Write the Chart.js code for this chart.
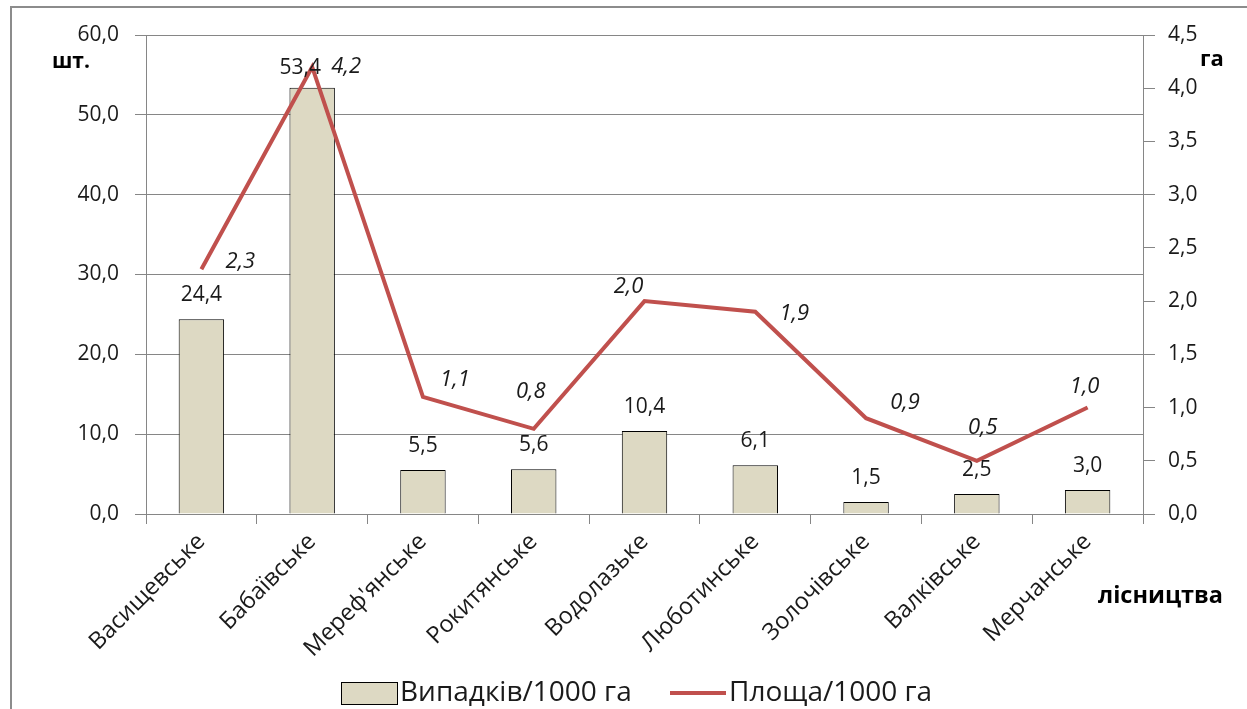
<!DOCTYPE html>
<html>
<head>
<meta charset="utf-8">
<script src="https://cdn.jsdelivr.net/npm/chart.js@4.4.0/dist/chart.umd.min.js"></script>
<style>
  html, body { margin: 0; padding: 0; background: #fff; }
</style>
</head>
<body>
<canvas id="chart" width="1247" height="709"></canvas>
<script>
// forestries and their values
const forestries = ['Васищевське', 'Бабаївське', "Мереф'янське", 'Рокитянське', 'Водолазьке', 'Люботинське', 'Золочівське', 'Валківське', 'Мерчанське'];
const casesPer1000 = [24.4, 53.4, 5.5, 5.6, 10.4, 6.1, 1.5, 2.5, 3.0];
const areaPer1000 = [2.3, 4.2, 1.1, 0.8, 2.0, 1.9, 0.9, 0.5, 1.0];
const seriesNames = ['Випадків/1000 га', 'Площа/1000 га'];
const leftTicks = [0, 10, 20, 30, 40, 50, 60];
const rightTicks = [0, 0.5, 1, 1.5, 2, 2.5, 3, 3.5, 4, 4.5];

// where the italic line labels sit relative to their points
const lineLabelShift = [[39, -7], [34, 0], [32, -17], [-3, -37], [-16, -14], [39, 2], [39, -15], [6, -33], [-3, -21]];
// the tall bar's label is nudged left/down to clear the line label
const barLabelShift = [[0, -24], [-12, -20], [0, -24], [0, -24], [0, -24], [0, -24], [0, -24], [0, -24], [0, -24]];

const FONT = "'Open Sans', 'Noto Sans', sans-serif";
const GRID = '#868686';
const TEXT = '#1a1a1a';
const BAR_FILL = '#DDD9C3';
const LINE_RED = '#C0504D';

const fmt = v => Number(v).toFixed(1).replace('.', ',');

// white background + frame lines around the chart
const framePlugin = {
  id: 'frame',
  beforeDraw(chart) {
    const ctx = chart.ctx;
    ctx.save();
    ctx.fillStyle = '#fff';
    ctx.fillRect(0, 0, chart.width, chart.height);
    ctx.strokeStyle = '#8c8c8c';
    ctx.lineWidth = 2;
    ctx.beginPath();
    ctx.moveTo(chart.width, 7);
    ctx.lineTo(11, 7);
    ctx.lineTo(11, chart.height);
    ctx.stroke();
    ctx.restore();
  }
};

// value labels above bars and beside the line points
const valueLabels = {
  id: 'valueLabels',
  afterDatasetsDraw(chart) {
    const ctx = chart.ctx;
    ctx.save();
    ctx.fillStyle = TEXT;
    ctx.textAlign = 'center';
    ctx.textBaseline = 'middle';

    ctx.font = `21px ${FONT}`;
    chart.getDatasetMeta(0).data.forEach((bar, i) => {
      const [dx, dy] = barLabelShift[i];
      ctx.fillText(fmt(casesPer1000[i]), bar.x + dx, bar.y + dy);
    });

    ctx.font = `italic 22px ${FONT}`;
    chart.getDatasetMeta(1).data.forEach((pt, i) => {
      const [dx, dy] = lineLabelShift[i];
      ctx.fillText(fmt(areaPer1000[i]), pt.x + dx, pt.y + dy);
    });
    ctx.restore();
  }
};

// axis captions and the legend row at the bottom
const captions = {
  id: 'captions',
  afterDraw(chart) {
    const ctx = chart.ctx;
    ctx.save();
    ctx.fillStyle = '#000';
    ctx.textBaseline = 'middle';
    ctx.textAlign = 'left';
    ctx.font = `bold 21px ${FONT}`;
    ctx.fillText('шт.', 52, 62);
    ctx.font = `bold 22px ${FONT}`;
    ctx.fillText('га', 1200, 60);
    ctx.font = `bold 23.5px ${FONT}`;
    ctx.fillText('лісництва', 1098, 596);

    // legend
    ctx.font = `28px ${FONT}`;
    ctx.fillStyle = BAR_FILL;
    ctx.fillRect(341, 682, 56, 22);
    ctx.strokeStyle = '#000';
    ctx.lineWidth = 1;
    ctx.strokeRect(341.5, 682.5, 56, 22);
    ctx.fillStyle = TEXT;
    ctx.fillText(seriesNames[0], 400, 693);

    ctx.strokeStyle = LINE_RED;
    ctx.lineWidth = 4;
    ctx.beginPath();
    ctx.moveTo(670, 693);
    ctx.lineTo(726, 693);
    ctx.stroke();
    ctx.fillText(seriesNames[1], 729, 693);
    ctx.restore();
  }
};

const tickFont = { family: FONT, size: 21 };

new Chart(document.getElementById('chart'), {
  type: 'bar',
  data: {
    labels: forestries,
    datasets: [
      {
        label: seriesNames[0],
        data: casesPer1000,
        backgroundColor: BAR_FILL,
        borderColor: '#000',
        borderWidth: 1,
        barPercentage: 0.41,
        categoryPercentage: 1,
        yAxisID: 'y',
        order: 2,
      },
      {
        type: 'line',
        label: seriesNames[1],
        data: areaPer1000,
        borderColor: LINE_RED,
        borderWidth: 4,
        pointRadius: 0,
        tension: 0,
        yAxisID: 'y1',
        order: 1,
      },
    ]
  },
  options: {
    responsive: false,
    animation: false,
    layout: { padding: { top: 35, left: 0, right: 0, bottom: 45 } },
    plugins: {
      legend: { display: false },
      title: { display: false },
      tooltip: { enabled: false },
    },
    scales: {
      x: {
        offset: true,
        grid: { offset: true, drawOnChartArea: false, drawTicks: true, tickLength: 10, color: GRID },
        border: { color: GRID },
        ticks: { font: { family: FONT, size: 23.5 }, color: TEXT, maxRotation: 45, minRotation: 45, padding: 4 },
        afterFit: s => { s.height = 150; },
      },
      y: {
        position: 'left',
        min: leftTicks[0],
        max: leftTicks[leftTicks.length - 1],
        afterBuildTicks: s => { s.ticks = leftTicks.map(v => ({ value: v })); },
        grid: { color: GRID, tickLength: 11 },
        border: { color: GRID },
        ticks: { font: tickFont, color: TEXT, padding: 16, callback: fmt },
        afterFit: s => { s.width = 146; },
      },
      y1: {
        position: 'right',
        min: rightTicks[0],
        max: rightTicks[rightTicks.length - 1],
        afterBuildTicks: s => { s.ticks = rightTicks.map(v => ({ value: v })); },
        grid: { drawOnChartArea: false, color: GRID, tickLength: 12 },
        border: { color: GRID },
        ticks: { font: tickFont, color: TEXT, padding: 13, callback: fmt },
        afterFit: s => { s.width = 104; },
      },
    },
  },
  plugins: [framePlugin, valueLabels, captions],
});
</script>
</body>
</html>
